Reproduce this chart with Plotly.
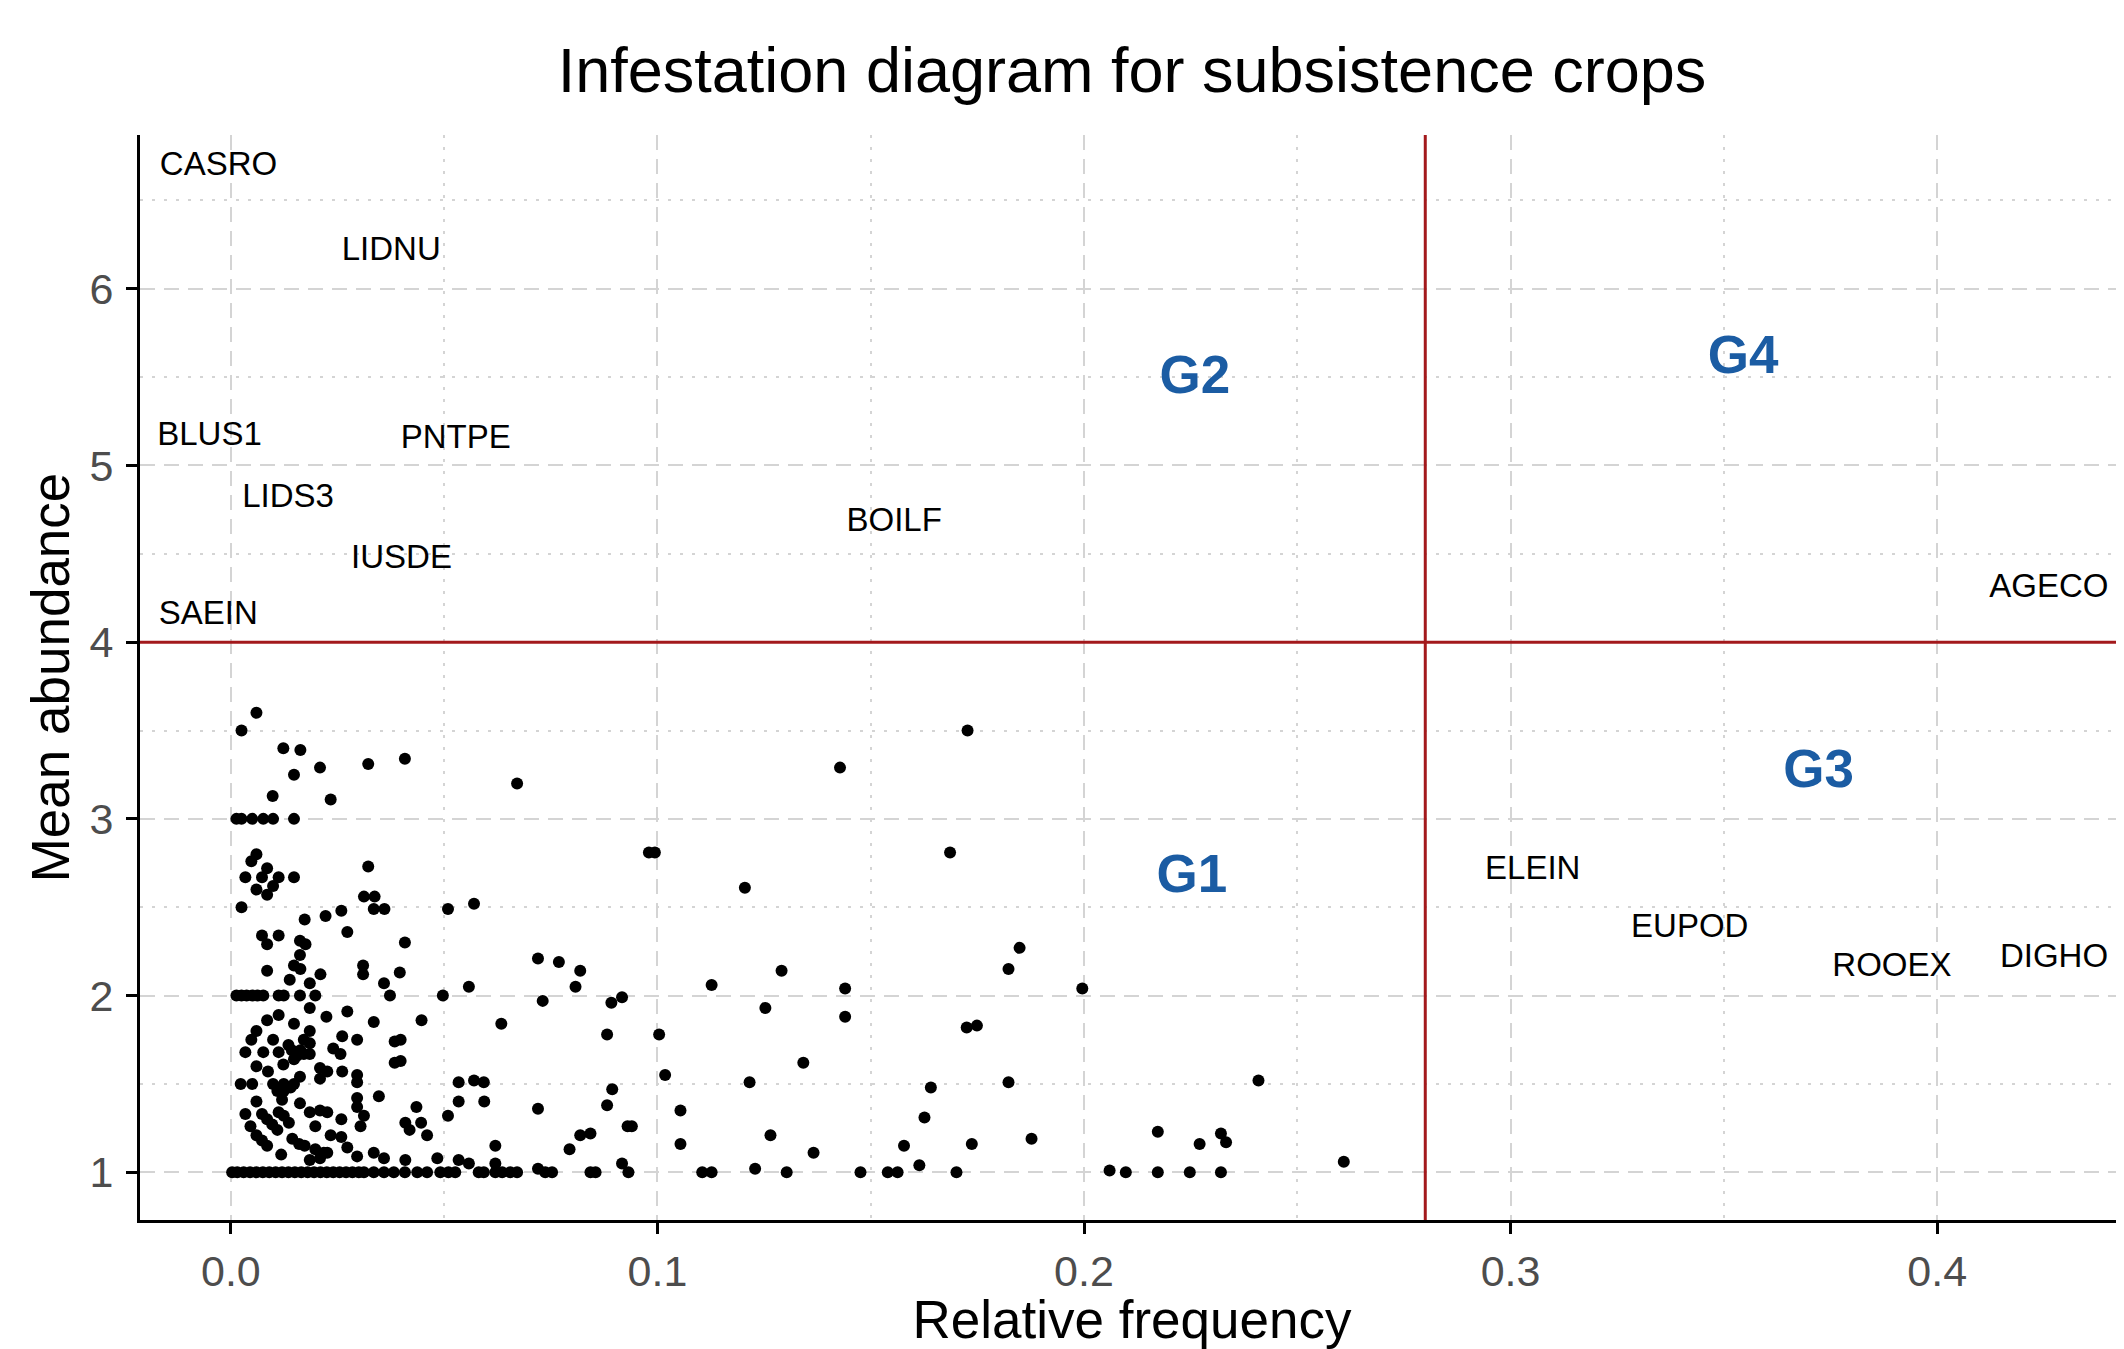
import plotly.graph_objects as go

# ---------------- data ----------------
# species plotted as points (relative frequency, mean abundance)
row3_freq = [0.0013, 0.0025, 0.005, 0.0076, 0.0099, 0.0148]
row2_freq = [0.0013, 0.0025, 0.0037, 0.005, 0.0063, 0.0076, 0.0112, 0.0124, 0.0162, 0.0198, 0.0373, 0.0497]
row15_freq = [0.0023, 0.005, 0.0099, 0.0124, 0.0148]
row1_freq = [0.0003, 0.0015, 0.003, 0.0045, 0.006, 0.0075, 0.009, 0.0105, 0.012, 0.0135,
             0.015, 0.0165, 0.018, 0.0195, 0.021, 0.0225, 0.024, 0.0255, 0.027, 0.0285,
             0.030, 0.0312, 0.0335, 0.0359, 0.0382, 0.0408, 0.0437, 0.046, 0.0491, 0.051,
             0.0526, 0.0581, 0.0593, 0.062, 0.0636, 0.0655, 0.0671, 0.0737, 0.0753, 0.0843,
             0.0855, 0.0932, 0.1105, 0.1127, 0.1303, 0.1476, 0.154, 0.1563, 0.1701, 0.2098,
             0.2173, 0.2248, 0.2321]

other_freq = [
    0.006, 0.0025, 0.0123, 0.0163, 0.0148, 0.0209, 0.0322, 0.0408, 0.0671, 0.0098, 0.0234, 0.1727, 0.1428,
    0.006, 0.0048, 0.0085, 0.0034, 0.0073, 0.0112, 0.0148, 0.006, 0.0099, 0.0085, 0.0322, 0.0312, 0.0337,
    0.0335, 0.036, 0.0025, 0.0509, 0.057, 0.0259, 0.0222, 0.0173, 0.098, 0.0994, 0.1686, 0.1205,
    0.0273, 0.0408, 0.0073, 0.0112, 0.0085, 0.0162, 0.0175, 0.0162, 0.0148, 0.0163, 0.0085, 0.021,
    0.031, 0.031, 0.0396, 0.0138, 0.0185, 0.0359, 0.072, 0.0769, 0.0819, 0.0808, 0.0558, 0.1849,
    0.1823, 0.1291, 0.1127, 0.144, 0.1996,
    0.0731, 0.0892, 0.0917, 0.0185, 0.0224, 0.0273, 0.0335, 0.0447, 0.0634, 0.0112, 0.0085, 0.0148,
    0.006, 0.0048, 0.0099, 0.0185, 0.0171, 0.0261, 0.0296, 0.0384, 0.0398, 0.0882, 0.0034, 0.0076,
    0.0112, 0.0135, 0.0143, 0.0155, 0.0163, 0.0171, 0.0148, 0.0185, 0.0123, 0.006, 0.024, 0.0257,
    0.0185, 0.0384, 0.0398, 0.0087, 0.0209, 0.0209, 0.0226, 0.0261, 0.0296, 0.0296, 0.0162, 0.0534,
    0.057, 0.0593, 0.1725, 0.1749, 0.1253, 0.144, 0.1004, 0.1342, 0.1018, 0.1216, 0.1823, 0.2409,
    0.0109, 0.0124, 0.014, 0.012, 0.0894, 0.1641, 0.006, 0.0162, 0.0296, 0.0296, 0.0312, 0.0347,
    0.0534, 0.0594, 0.0435, 0.072, 0.0882, 0.0509, 0.0034, 0.0073, 0.0085, 0.0097, 0.0109, 0.0112,
    0.0124, 0.0136, 0.0185, 0.0209, 0.0226, 0.0259, 0.0046, 0.006, 0.0073, 0.0085, 0.0198, 0.0304,
    0.0409, 0.0419, 0.0446, 0.046, 0.093, 0.0234, 0.0259, 0.0144, 0.016, 0.0173, 0.0819, 0.0843,
    0.0794, 0.062, 0.0273, 0.0198, 0.0218, 0.0118, 0.0296, 0.0335, 0.0359, 0.0409, 0.0484, 0.0534,
    0.0558, 0.062, 0.072, 0.0917, 0.0185, 0.0209, 0.0226, 0.1054, 0.1626, 0.094, 0.1265, 0.1054,
    0.1578, 0.1737, 0.1877, 0.2173, 0.2271, 0.2321, 0.2333, 0.1366, 0.1229, 0.1614, 0.2609, 0.206]

other_abund = [
    3.60, 3.50, 3.40, 3.39, 3.25, 3.29, 3.31, 3.34, 3.20, 3.13, 3.11, 3.50, 3.29,
    2.80, 2.76, 2.72, 2.67, 2.67, 2.67, 2.67, 2.60, 2.62, 2.57, 2.73, 2.56, 2.56,
    2.49, 2.49, 2.50, 2.49, 2.52, 2.48, 2.45, 2.43, 2.81, 2.81, 2.81, 2.61,
    2.36, 2.30, 2.34, 2.34, 2.29, 2.31, 2.29, 2.23, 2.17, 2.15, 2.14, 2.12,
    2.17, 2.12, 2.13, 2.09, 2.07, 2.07, 2.21, 2.19, 2.14, 2.05, 2.05, 2.27,
    2.15, 2.14, 2.06, 2.04, 2.04,
    1.97, 1.96, 1.99, 1.93, 1.88, 1.91, 1.85, 1.86, 1.84, 1.89, 1.86, 1.84,
    1.80, 1.75, 1.75, 1.80, 1.75, 1.77, 1.75, 1.74, 1.75, 1.78, 1.68, 1.68,
    1.68, 1.72, 1.69, 1.66, 1.69, 1.67, 1.64, 1.67, 1.61, 1.60, 1.70, 1.67,
    1.73, 1.62, 1.63, 1.57, 1.59, 1.53, 1.57, 1.57, 1.55, 1.51, 1.54, 1.51,
    1.52, 1.51, 1.82, 1.83, 1.93, 1.88, 1.78, 1.62, 1.55, 1.51, 1.51, 1.52,
    1.46, 1.46, 1.48, 1.41, 1.47, 1.48, 1.40, 1.39, 1.42, 1.37, 1.32, 1.43,
    1.40, 1.40, 1.37, 1.36, 1.38, 1.32, 1.33, 1.33, 1.30, 1.27, 1.24, 1.34,
    1.32, 1.28, 1.34, 1.35, 1.34, 1.30, 1.26, 1.21, 1.18, 1.15, 1.26, 1.26,
    1.28, 1.24, 1.28, 1.21, 1.26, 1.21, 1.20, 1.19, 1.16, 1.15, 1.21, 1.22,
    1.13, 1.15, 1.14, 1.13, 1.11, 1.10, 1.09, 1.11, 1.08, 1.07, 1.08, 1.07,
    1.05, 1.05, 1.02, 1.05, 1.07, 1.08, 1.11, 1.35, 1.31, 1.26, 1.21, 1.16,
    1.15, 1.16, 1.19, 1.23, 1.16, 1.22, 1.17, 1.11, 1.02, 1.04, 1.06, 1.01]

# labelled species
species = ["CASRO", "LIDNU", "BLUS1", "PNTPE", "LIDS3", "IUSDE", "SAEIN", "BOILF",
           "AGECO", "ELEIN", "EUPOD", "ROOEX", "DIGHO"]
species_freq = [-0.0029, 0.0376, -0.005, 0.0527, 0.0134, 0.040, -0.0053, 0.1555,
                0.4262, 0.3052, 0.342, 0.3894, 0.4274]
species_abund = [6.69, 6.21, 5.16, 5.147, 4.813, 4.469, 4.148, 4.678,
                 4.304, 2.706, 2.377, 2.155, 2.21]

# quadrant (group) labels
groups = ["G1", "G2", "G3", "G4"]
group_freq = [0.2253, 0.226, 0.3722, 0.3545]
group_abund = [2.66, 5.487, 3.255, 5.60]

# thresholds
freq_cut = 0.28
abund_cut = 4

x_ticks = [0.0, 0.1, 0.2, 0.3, 0.4]
x_ticktext = ["0.0", "0.1", "0.2", "0.3", "0.4"]
y_ticks = [1, 2, 3, 4, 5, 6]

# ---------------- build ----------------
pts_x = row3_freq + row2_freq + row15_freq + row1_freq + other_freq
pts_y = ([3.0] * len(row3_freq) + [2.0] * len(row2_freq) + [1.5] * len(row15_freq)
         + [1.0] * len(row1_freq) + other_abund)

FONT = "Liberation Sans, Arial, Helvetica, sans-serif"
GRID = "#d4d4d4"

fig = go.Figure()

fig.add_shape(type="line", xref="x", yref="paper", x0=freq_cut, x1=freq_cut, y0=0, y1=1,
              line=dict(color="#a3191c", width=3), layer="above")
fig.add_shape(type="line", xref="paper", yref="y", x0=0, x1=1, y0=abund_cut, y1=abund_cut,
              line=dict(color="#a3191c", width=3), layer="above")

fig.add_trace(go.Scatter(x=pts_x, y=pts_y, mode="markers",
                         marker=dict(color="black", size=12, line=dict(width=0)),
                         showlegend=False, hoverinfo="x+y"))

fig.add_trace(go.Scatter(x=species_freq, y=species_abund, mode="text", text=species,
                         textposition="middle center",
                         textfont=dict(family=FONT, size=33, color="black"),
                         showlegend=False))

fig.add_trace(go.Scatter(x=group_freq, y=group_abund, mode="text",
                         text=["<b>%s</b>" % g for g in groups],
                         textposition="middle center",
                         textfont=dict(family=FONT, size=53, color="#1b5ca3"),
                         showlegend=False))

axis_common = dict(
    showgrid=True, gridcolor=GRID, gridwidth=2, griddash="14px,10px",
    showline=True, linecolor="black", linewidth=3, mirror=False,
    ticks="outside", ticklen=11, tickwidth=3, tickcolor="black",
    tickfont=dict(family=FONT, size=43, color="#4d4d4d"),
    zeroline=False, automargin=False,
)

W, H = 2116, 1341  # page body adds an 8px margin on the top/left

fig.update_layout(
    width=W, height=H,
    margin=dict(l=132, r=0, t=127, b=129),
    paper_bgcolor="white", plot_bgcolor="white",
    font=dict(family=FONT, color="black"),
    title=dict(text="Infestation diagram for subsistence crops",
               font=dict(family=FONT, size=63, color="black"),
               x=0.5, xref="paper", xanchor="center",
               y=1 - 62 / H, yref="container", yanchor="middle"),
    xaxis=dict(range=[-0.0213, 0.4438], tickvals=x_ticks, ticktext=x_ticktext,
               minor=dict(dtick=0.05, tick0=0, showgrid=True, gridcolor=GRID,
                          gridwidth=2, griddash="3px,9px"),
               title=dict(text="Relative frequency", font=dict(family=FONT, size=53, color="black"),
                          standoff=6),
               **axis_common),
    yaxis=dict(range=[0.73, 6.87], tickvals=y_ticks,
               minor=dict(dtick=0.5, tick0=0, showgrid=True, gridcolor=GRID,
                          gridwidth=2, griddash="3px,9px"),
               title=dict(text="Mean abundance", font=dict(family=FONT, size=53, color="black"),
                          standoff=3),
               ticklabelstandoff=4,
               **axis_common),
)

fig.write_html("out.html")
